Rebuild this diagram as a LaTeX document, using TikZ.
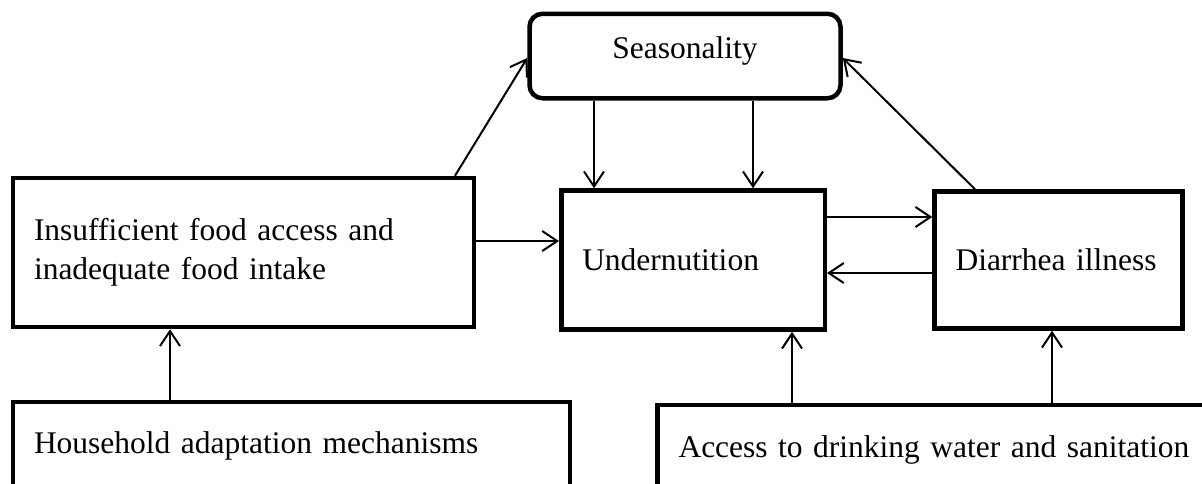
\documentclass[tikz,border=0pt]{standalone}
\usepackage{fontspec}
\setmainfont{Liberation Serif}
\usetikzlibrary{arrows.meta}
\begin{document}
\begin{tikzpicture}
  [x=1pt,y=-1pt,
   every node/.style={font=\fontsize{31.5}{39}\selectfont},
   box/.style={draw,line width=4.5pt,align=left,inner xsep=21pt,inner ysep=0pt},
   arr/.style={line width=2pt,-{Straight Barb[length=15pt,width=20pt]}}]
  \useasboundingbox (0,0) rectangle (1202,483);
  \clip (0,0) rectangle (1202,483);

  \node[box,rounded corners=13pt,align=center,minimum width=311pt,minimum height=84.5pt,text depth=16pt] (seas) at (685,56) {Seasonality};
  \node[box,text width=419pt,minimum height=149pt] (food) at (243.5,252.5) {Insufficient food access and\\inadequate food intake};
  \node[box,text width=221.5pt,minimum height=139pt] (under) at (693,260) {Undernutition};
  \node[box,text width=206pt,minimum height=137pt] (diar) at (1058.5,260) {Diarrhea illness};
  \node[box,text width=515pt,minimum height=88pt] (house) at (291.5,446) {Household adaptation mechanisms};
  \node[box,text width=520.5pt,minimum height=90pt] (water) at (938.75,450) {Access to drinking water and sanitation};

  \foreach \x in {594,753}
    \draw[arr] (seas.south -| \x,0) -- (under.north -| \x,0);
  \draw[arr] (food.north -| 455,0) -- (seas.west |- 0,58);
  \draw[arr] (diar.north -| 975,0) -- (seas.east |- 0,58);
  \draw[arr] (food.east |- 0,241) -- (under.west |- 0,241);
  \draw[arr] (under.east |- 0,217) -- (diar.west |- 0,217);
  \draw[arr] (diar.west |- 0,273) -- (under.east |- 0,273);
  \draw[arr] (house.north -| 170,0) -- (food.south -| 170,0);
  \foreach \x/\to in {792/under,1052/diar}
    \draw[arr] (water.north -| \x,0) -- (\to.south -| \x,0);

\end{tikzpicture}
\end{document}
